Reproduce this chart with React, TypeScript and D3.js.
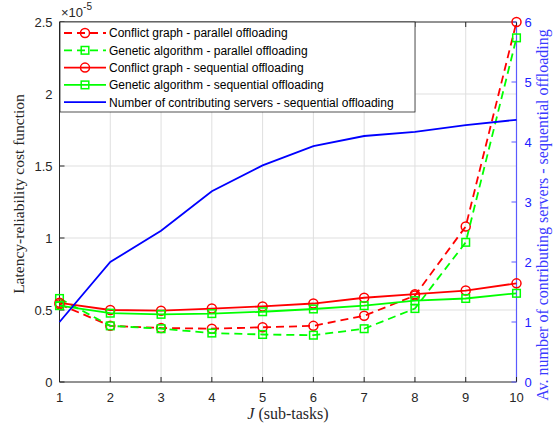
import * as d3 from 'd3';

const tasks = [1, 2, 3, 4, 5, 6, 7, 8, 9, 10];
// latency-reliability cost, in units of 1e-5
const cgParallel = [0.54, 0.39, 0.375, 0.37, 0.38, 0.39, 0.46, 0.60, 1.08, 2.5];
const gaParallel = [0.58, 0.39, 0.37, 0.34, 0.33, 0.325, 0.37, 0.51, 0.97, 2.39];
const cgSequential = [0.55, 0.50, 0.495, 0.51, 0.525, 0.545, 0.585, 0.61, 0.635, 0.685];
const gaSequential = [0.53, 0.478, 0.47, 0.475, 0.488, 0.507, 0.53, 0.565, 0.58, 0.616];
// number of contributing servers (right axis)
const servers = [1.0, 2.0, 2.52, 3.18, 3.61, 3.93, 4.1, 4.17, 4.28, 4.37];

const leftTicks = [0, 0.5, 1, 1.5, 2, 2.5];
const rightTicks = [0, 1, 2, 3, 4, 5, 6];

const legendItems = [
  { label: 'Conflict graph - parallel offloading', color: '#ff0000', dash: true, marker: 'circle' },
  { label: 'Genetic algorithm - parallel offloading', color: '#00ff00', dash: true, marker: 'square' },
  { label: 'Conflict graph - sequential offloading', color: '#ff0000', dash: false, marker: 'circle' },
  { label: 'Genetic algorithm - sequential offloading', color: '#00ff00', dash: false, marker: 'square' },
  { label: 'Number of contributing servers - sequential offloading', color: '#0000ff', dash: false, marker: 'none' },
];

const W = 553;
const H = 424;
const m = { left: 59.5, right: 516.5, top: 22, bottom: 382 };
const sans = 'Liberation Sans, Arial, sans-serif';
const serif = 'Liberation Serif, Times New Roman, serif';

function Marker({ type, x, y, color }: { type: string; x: number; y: number; color: string }) {
  if (type === 'circle') return <circle cx={x} cy={y} r={4.5} fill="none" stroke={color} strokeWidth={1.5} />;
  if (type === 'square') return <rect x={x - 3.8} y={y - 3.8} width={7.6} height={7.6} fill="none" stroke={color} strokeWidth={1.5} />;
  return null;
}

export default function App() {
  const x = d3.scaleLinear().domain([1, 10]).range([m.left, m.right]);
  const yL = d3.scaleLinear().domain([0, 2.5]).range([m.bottom, m.top]);
  const yR = d3.scaleLinear().domain([0, 6]).range([m.bottom, m.top]);

  const lineL = d3.line<number>().x((_, i) => x(tasks[i])).y(d => yL(d));
  const lineR = d3.line<number>().x((_, i) => x(tasks[i])).y(d => yR(d));

  const series = [
    { data: cgParallel, ...legendItems[0] },
    { data: gaParallel, ...legendItems[1] },
    { data: cgSequential, ...legendItems[2] },
    { data: gaSequential, ...legendItems[3] },
  ];

  const legX = 60;
  const legY = 22;
  const legW = 355;
  const legH = 90;
  const rowH = 17.3;

  return (
    <svg width={W} height={H} style={{ position: 'absolute', left: 0, top: 0, background: '#fff' }}>
      {/* grid */}
      <g stroke="#dfdfdf" strokeWidth={1}>
        {tasks.slice(1, -1).map(t => (
          <line key={'gx' + t} x1={x(t)} x2={x(t)} y1={m.top} y2={m.bottom} />
        ))}
        {leftTicks.slice(1, -1).map(t => (
          <line key={'gy' + t} x1={m.left} x2={m.right} y1={yL(t)} y2={yL(t)} />
        ))}
      </g>

      {/* axes box */}
      <line x1={m.left} x2={m.right} y1={m.bottom} y2={m.bottom} stroke="#262626" />
      <line x1={m.left} x2={m.right} y1={m.top} y2={m.top} stroke="#262626" />
      <line x1={m.left} x2={m.left} y1={m.top} y2={m.bottom} stroke="#262626" />
      <line x1={m.right} x2={m.right} y1={m.top} y2={m.bottom} stroke="#5a5aff" strokeWidth={1.2} />

      {/* x ticks */}
      {tasks.map(t => (
        <g key={'xt' + t}>
          <line x1={x(t)} x2={x(t)} y1={m.bottom} y2={m.bottom - 5} stroke="#262626" />
          <line x1={x(t)} x2={x(t)} y1={m.top} y2={m.top + 5} stroke="#262626" />
          <text x={x(t)} y={m.bottom + 20} textAnchor="middle" fontFamily={sans} fontSize={13} fill="#262626">{t}</text>
        </g>
      ))}

      {/* left ticks */}
      {leftTicks.map(t => (
        <g key={'yl' + t}>
          <line x1={m.left} x2={m.left + 5} y1={yL(t)} y2={yL(t)} stroke="#262626" />
          <text x={m.left - 7} y={yL(t) + 4.5} textAnchor="end" fontFamily={sans} fontSize={13} fill="#262626">{t}</text>
        </g>
      ))}
      <text x={61} y={17} fontFamily={sans} fontSize={13} fill="#262626">
        ×10<tspan dy={-7} fontSize={10}>-5</tspan>
      </text>

      {/* right ticks */}
      {rightTicks.map(t => (
        <g key={'yr' + t}>
          <line x1={m.right} x2={m.right - 5} y1={yR(t)} y2={yR(t)} stroke="#5a5aff" />
          <text x={m.right + 8} y={yR(t) + 4.5} fontFamily={sans} fontSize={13} fill="#2020ff">{t}</text>
        </g>
      ))}

      {/* axis labels */}
      <text x={288} y={419} textAnchor="middle" fontFamily={serif} fontSize={16} fill="#262626">
        <tspan fontStyle="italic">J</tspan> (sub-tasks)
      </text>
      <text transform={`translate(24,194) rotate(-90)`} textAnchor="middle" fontFamily={serif} fontSize={15.5} fill="#262626">
        Latency-reliability cost function
      </text>
      <text transform={`translate(548,215) rotate(-90)`} textAnchor="middle" fontFamily={serif} fontSize={16} fill="#3a3aff">
        Av. number of contributing servers - sequential offloading
      </text>

      {/* series */}
      {series.map((s, si) => (
        <g key={'s' + si}>
          <path d={lineL(s.data) || ''} fill="none" stroke={s.color} strokeWidth={1.8} strokeDasharray={s.dash ? '8,5' : undefined} />
          {s.data.map((v, i) => (
            <Marker key={i} type={s.marker} x={x(tasks[i])} y={yL(v)} color={s.color} />
          ))}
        </g>
      ))}
      <path d={lineR(servers) || ''} fill="none" stroke="#0000ff" strokeWidth={1.8} />

      {/* legend */}
      <rect x={legX} y={legY} width={legW} height={legH} fill="#fff" stroke="#262626" strokeWidth={0.8} />
      {legendItems.map((it, i) => {
        const cy = legY + 11 + i * rowH;
        return (
          <g key={'lg' + i}>
            <line x1={legX + 4} x2={legX + 46} y1={cy} y2={cy} stroke={it.color} strokeWidth={1.8} strokeDasharray={it.dash ? '8,5' : undefined} />
            <Marker type={it.marker} x={legX + 25} y={cy} color={it.color} />
            <text x={legX + 49} y={cy + 4.3} fontFamily={sans} fontSize={12} fill="#000">{it.label}</text>
          </g>
        );
      })}
    </svg>
  );
}
